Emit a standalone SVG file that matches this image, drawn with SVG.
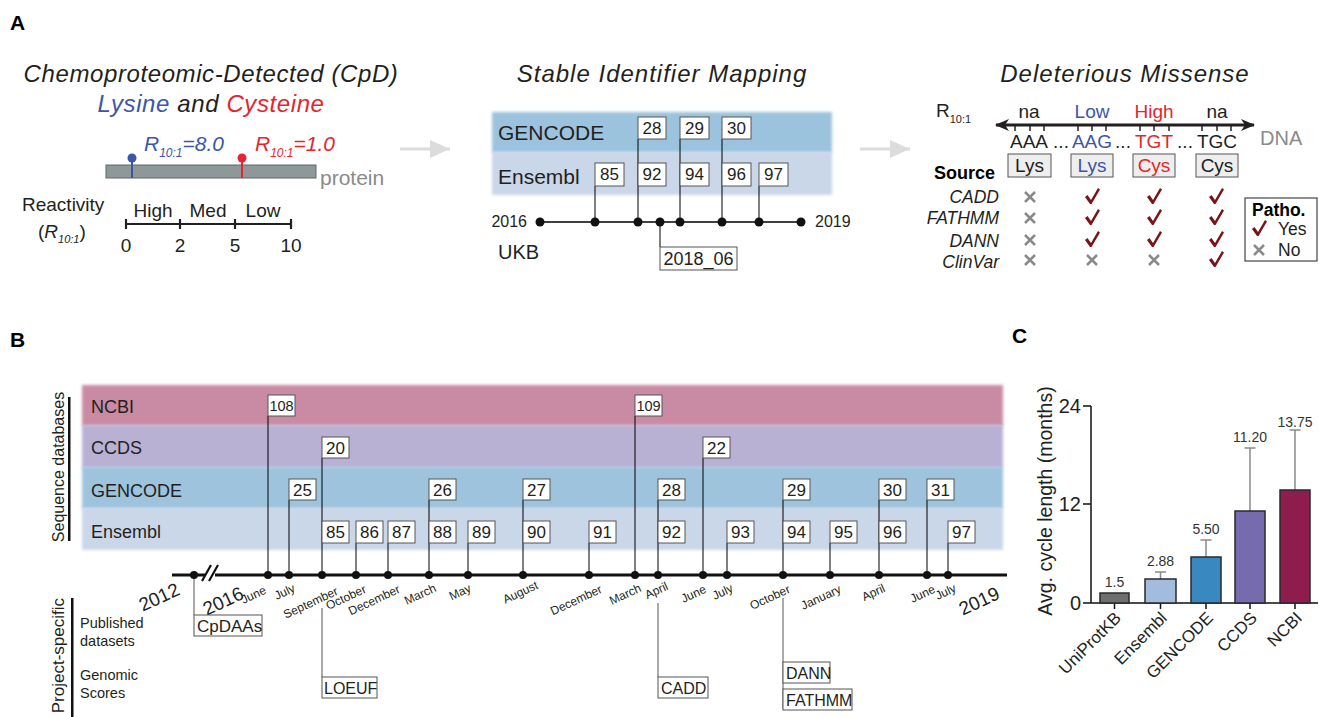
<svg xmlns="http://www.w3.org/2000/svg" width="1319" height="717" viewBox="0 0 1319 717">
<defs>
<style>
text{font-family:"Liberation Sans",Arial,Helvetica,sans-serif}
.pl{font-size:21px;font-weight:bold}
.title{font-size:24px;font-style:italic;letter-spacing:1px}
.bx{fill:#fff;stroke:#555;stroke-width:1}
.bn{font-size:17px;text-anchor:middle}
.ln{stroke:#000;stroke-width:1;fill:none}
.dot{fill:#111}
.mon{font-size:12px;text-anchor:end}
.yr{font-size:19px;text-anchor:end}
.xm{stroke:#8a8a8a;stroke-width:2.5;stroke-linecap:butt}
.ck{fill:#7a1417}
.bar{stroke:#2a2a2a;stroke-width:1.5}
.eb{stroke:#8a8a8a;stroke-width:1.5;fill:none}
.val{font-size:14px;text-anchor:middle}
.xl{font-size:17px;text-anchor:end}
</style>
<filter id="soft" x="-5%" y="-20%" width="110%" height="140%"><feGaussianBlur stdDeviation="1.5"/></filter>
<marker id="ga" viewBox="0 0 20 18" refX="20" refY="9" markerWidth="20" markerHeight="18" markerUnits="userSpaceOnUse" orient="auto"><path d="M0,0 L20,9 L0,18 Z" fill="#dcdcdc"/></marker>
<marker id="ba" viewBox="0 0 14 12" refX="13" refY="6" markerWidth="14" markerHeight="12" markerUnits="userSpaceOnUse" orient="auto-start-reverse"><path d="M0,0 L14,6 L0,12 L4,6 Z" fill="#231f20"/></marker>
<g id="chk"><path d="M-7,0 L-4.5,-2 L-1,3 L6,-9 L8,-7.5 L-0.5,7 L-2,7 Z"/></g>
<g id="crs"><path d="M-5,-5 L5,5 M-5,5 L5,-5"/></g>
</defs>
<g fill="#231f20">
<!-- Panel labels -->
<text class="pl" x="10" y="30" fill="#000">A</text>
<text class="pl" x="10" y="347" fill="#000">B</text>
<text class="pl" x="1012" y="343" fill="#000">C</text>

<!-- ===== Panel A left ===== -->
<g id="cpd-title">
<text class="title" x="211" y="82" text-anchor="middle" style="letter-spacing:0.6px">Chemoproteomic-Detected (CpD)</text>
<text class="title" x="211" y="112" text-anchor="middle" style="letter-spacing:0.6px"><tspan fill="#3b55a8">Lysine</tspan> and <tspan fill="#e3262d">Cysteine</tspan></text>
</g>
<g id="protein">
<rect x="106" y="165" width="210" height="13" fill="#8f9899" stroke="#5f6667" stroke-width="1"/>
<line x1="132" y1="158" x2="132" y2="178" stroke="#3b55a8" stroke-width="2"/>
<circle cx="132" cy="158" r="4.5" fill="#3b55a8"/>
<line x1="242" y1="158" x2="242" y2="178" stroke="#e3262d" stroke-width="2"/>
<circle cx="242" cy="158" r="4.5" fill="#e3262d"/>
<text x="144" y="151" font-size="21" font-style="italic" fill="#3b55a8">R<tspan font-size="12" dy="6">10:1</tspan><tspan dy="-6">=8.0</tspan></text>
<text x="255" y="151" font-size="21" font-style="italic" fill="#e3262d">R<tspan font-size="12" dy="6">10:1</tspan><tspan dy="-6">=1.0</tspan></text>
<text x="320" y="185" font-size="21" fill="#8a8a8a">protein</text>
</g>
<g id="reactivity">
<text x="22" y="211" font-size="19">Reactivity</text>
<text x="38" y="238" font-size="19">(<tspan font-style="italic">R</tspan><tspan font-size="11" dy="5" font-style="italic">10:1</tspan><tspan dy="-5">)</tspan></text>
<path d="M126,224 H291 M126,219 V229 M180,219 V229 M235,219 V229 M291,219 V229" stroke="#231f20" stroke-width="2.2" fill="none"/>
<text x="153" y="217" font-size="19" text-anchor="middle">High</text>
<text x="208" y="217" font-size="19" text-anchor="middle">Med</text>
<text x="263" y="217" font-size="19" text-anchor="middle">Low</text>
<text x="126" y="252" font-size="19" text-anchor="middle">0</text>
<text x="180" y="252" font-size="19" text-anchor="middle">2</text>
<text x="235" y="252" font-size="19" text-anchor="middle">5</text>
<text x="291" y="252" font-size="19" text-anchor="middle">10</text>
</g>

<!-- grey arrows -->
<g id="panel-arrows">
<line x1="400" y1="149" x2="450" y2="149" stroke="#dcdcdc" stroke-width="3" marker-end="url(#ga)"/>
<line x1="860" y1="149" x2="910" y2="149" stroke="#dcdcdc" stroke-width="3" marker-end="url(#ga)"/>
</g>

<!-- ===== Panel A middle ===== -->
<text class="title" x="662" y="82" text-anchor="middle">Stable Identifier Mapping</text>
<g id="sim-bands">
<rect x="492" y="112" width="340" height="41" fill="#9cc3dd" filter="url(#soft)"/>
<rect x="492" y="152" width="340" height="43" fill="#c9d7e9" filter="url(#soft)"/>
<text x="498" y="140" font-size="21">GENCODE</text>
<text x="498" y="184" font-size="21">Ensembl</text>
</g>
<g id="sim-connectors" class="ln">
<line x1="540" y1="222" x2="801" y2="222" stroke="#000" stroke-width="1.5"/>
<line x1="595" y1="222" x2="595" y2="186"/>
<line x1="638" y1="222" x2="638" y2="139"/>
<line x1="680" y1="222" x2="680" y2="139"/>
<line x1="722" y1="222" x2="722" y2="139"/>
<line x1="759" y1="222" x2="759" y2="186"/>
<line x1="660" y1="222" x2="660" y2="247"/>
</g>
<g id="sim-dots" class="dot">
<circle cx="540" cy="222" r="4.5"/><circle cx="595" cy="222" r="4.5"/><circle cx="638" cy="222" r="4.5"/><circle cx="660" cy="222" r="4.5"/><circle cx="680" cy="222" r="4.5"/><circle cx="722" cy="222" r="4.5"/><circle cx="759" cy="222" r="4.5"/><circle cx="801" cy="222" r="4.5"/>
</g>
<g id="sim-boxes">
<rect class="bx" x="638" y="117" width="28" height="22"/><text x="652" y="134" font-size="17" text-anchor="middle">28</text>
<rect class="bx" x="680" y="117" width="29" height="22"/><text x="694.5" y="134" font-size="17" text-anchor="middle">29</text>
<rect class="bx" x="722" y="117" width="29" height="22"/><text x="736.5" y="134" font-size="17" text-anchor="middle">30</text>
<rect class="bx" x="595" y="163" width="29" height="23"/><text x="609.5" y="180" font-size="17" text-anchor="middle">85</text>
<rect class="bx" x="638" y="163" width="28" height="23"/><text x="652" y="180" font-size="17" text-anchor="middle">92</text>
<rect class="bx" x="680" y="163" width="29" height="23"/><text x="694.5" y="180" font-size="17" text-anchor="middle">94</text>
<rect class="bx" x="722" y="163" width="29" height="23"/><text x="736.5" y="180" font-size="17" text-anchor="middle">96</text>
<rect class="bx" x="759" y="163" width="29" height="23"/><text x="773.5" y="180" font-size="17" text-anchor="middle">97</text>
<rect class="bx" x="660" y="247" width="77" height="23"/><text x="698.5" y="265" font-size="18" text-anchor="middle">2018_06</text>
</g>
<text x="527" y="227" font-size="16" text-anchor="end">2016</text>
<text x="815" y="227" font-size="16">2019</text>
<text x="498" y="259" font-size="20">UKB</text>

<!-- ===== Panel A right ===== -->
<text class="title" x="1125" y="82" text-anchor="middle">Deleterious Missense</text>
<g id="dna">
<text x="936" y="117" font-size="19">R<tspan font-size="11" dy="6">10:1</tspan></text>
<line x1="996" y1="125" x2="1254" y2="125" stroke="#231f20" stroke-width="3" marker-start="url(#ba)" marker-end="url(#ba)"/>
<path d="M1015,125v6M1030,125v6M1044,125v6M1078,125v6M1092,125v6M1106,125v6M1140,125v6M1154,125v6M1169,125v6M1202,125v6M1217,125v6M1231,125v6" stroke="#231f20" stroke-width="1.5"/>
<text x="1029" y="118" font-size="19" text-anchor="middle">na</text>
<text x="1092" y="118" font-size="19" text-anchor="middle" fill="#3b55a8">Low</text>
<text x="1154" y="118" font-size="19" text-anchor="middle" fill="#e3262d">High</text>
<text x="1217" y="118" font-size="19" text-anchor="middle">na</text>
<text x="1029" y="148" font-size="19" text-anchor="middle">AAA</text>
<text x="1061" y="148" font-size="19" text-anchor="middle">...</text>
<text x="1092" y="148" font-size="19" text-anchor="middle" fill="#3b55a8">AAG</text>
<text x="1123" y="148" font-size="19" text-anchor="middle">...</text>
<text x="1154" y="148" font-size="19" text-anchor="middle" fill="#e3262d">TGT</text>
<text x="1185" y="148" font-size="19" text-anchor="middle">...</text>
<text x="1217" y="148" font-size="19" text-anchor="middle">TGC</text>
<text x="1260" y="145" font-size="20" fill="#8a8a8a">DNA</text>
</g>
<g id="aa-boxes">
<rect x="1008" y="154" width="43" height="23" fill="#eeeeee" stroke="#555"/><text x="1029.5" y="172" font-size="19" text-anchor="middle">Lys</text>
<rect x="1071" y="154" width="42" height="23" fill="#eeeeee" stroke="#555"/><text x="1092" y="172" font-size="19" text-anchor="middle" fill="#3b55a8">Lys</text>
<rect x="1133" y="154" width="42" height="23" fill="#eeeeee" stroke="#555"/><text x="1154" y="172" font-size="19" text-anchor="middle" fill="#e3262d">Cys</text>
<rect x="1196" y="154" width="42" height="23" fill="#eeeeee" stroke="#555"/><text x="1217" y="172" font-size="19" text-anchor="middle">Cys</text>
</g>
<g id="sources">
<text x="934" y="179" font-size="18" font-weight="bold" fill="#000">Source</text>
<text x="999" y="203" font-size="17.5" font-style="italic" text-anchor="end">CADD</text>
<text x="999" y="224" font-size="17.5" font-style="italic" text-anchor="end">FATHMM</text>
<text x="999" y="247" font-size="17.5" font-style="italic" text-anchor="end">DANN</text>
<text x="999" y="268" font-size="17.5" font-style="italic" text-anchor="end">ClinVar</text>
<g class="xm">
<use href="#crs" x="1030" y="197"/><use href="#crs" x="1030" y="218"/><use href="#crs" x="1030" y="240"/><use href="#crs" x="1030" y="260"/>
<use href="#crs" x="1092" y="260"/><use href="#crs" x="1154" y="260"/>
</g>
<g class="ck">
<use href="#chk" x="1092" y="197"/><use href="#chk" x="1154" y="197"/><use href="#chk" x="1216" y="197"/>
<use href="#chk" x="1092" y="218"/><use href="#chk" x="1154" y="218"/><use href="#chk" x="1216" y="218"/>
<use href="#chk" x="1092" y="240"/><use href="#chk" x="1154" y="240"/><use href="#chk" x="1216" y="240"/>
<use href="#chk" x="1216" y="260"/>
</g>
</g>
<g id="legend">
<rect x="1245" y="198" width="72" height="63" fill="#fff" stroke="#444" stroke-width="1.2"/>
<text x="1252" y="216" font-size="17.5" font-weight="bold" fill="#000">Patho.</text>
<use href="#chk" x="1259" y="229" class="ck"/>
<text x="1278" y="235" font-size="17.5">Yes</text>
<use href="#crs" x="1259" y="250" class="xm"/>
<text x="1278" y="256" font-size="17.5">No</text>
</g>

<!-- ===== Panel B ===== -->
<g id="b-bands">
<rect x="82" y="385" width="921" height="41" fill="#c98aa3" filter="url(#soft)"/>
<rect x="82" y="425" width="921" height="43" fill="#b8b1d4" filter="url(#soft)"/>
<rect x="82" y="467" width="921" height="42" fill="#9dc3dd" filter="url(#soft)"/>
<rect x="82" y="508" width="921" height="42" fill="#c9d7e9" filter="url(#soft)"/>
<text x="91" y="413" font-size="18">NCBI</text>
<text x="91" y="454" font-size="18">CCDS</text>
<text x="91" y="497" font-size="18">GENCODE</text>
<text x="91" y="538" font-size="18">Ensembl</text>
</g>
<g id="b-side-labels">
<rect x="68" y="397" width="2.5" height="144" fill="#111"/>
<text transform="translate(64,467) rotate(-90)" font-size="16" text-anchor="middle">Sequence databases</text>
<rect x="71" y="598" width="2.5" height="119" fill="#111"/>
<text transform="translate(64,598) rotate(-90)" font-size="17" text-anchor="end">Project-specific</text>
<text x="80" y="628" font-size="14.5">Published</text>
<text x="80" y="646" font-size="14.5">datasets</text>
<text x="80" y="680" font-size="14.5">Genomic</text>
<text x="80" y="698" font-size="14.5">Scores</text>
</g>
<g id="b-connectors" class="ln">
<path d="M268,575V416 M289,575V500 M322,575V458 M356,575V543 M388,575V543 M429,575V500 M468,575V543 M523,575V500 M589,575V543 M635,575V416 M658,575V500 M703,575V458 M727,575V543 M783,575V500 M830,575V543 M879,575V500 M927,575V500 M948,575V543"/>
<path d="M194,575V615" stroke="#555"/>
<path d="M322,608V677" stroke="#555"/>
<path d="M658,603V677" stroke="#555"/>
<path d="M783,598V709" stroke="#555"/>
</g>
<g id="b-timeline">
<line x1="172" y1="575" x2="1007" y2="575" stroke="#111" stroke-width="3"/>
<rect x="205" y="570" width="10" height="10" fill="#fff"/>
<path d="M202,581 L211,565 M209,581 L218,565" stroke="#111" stroke-width="2.2"/>
<g class="dot">
<circle cx="194" cy="575" r="4"/><circle cx="268" cy="575" r="4"/><circle cx="289" cy="575" r="4"/><circle cx="322" cy="575" r="4"/><circle cx="356" cy="575" r="4"/><circle cx="388" cy="575" r="4"/><circle cx="429" cy="575" r="4"/><circle cx="468" cy="575" r="4"/><circle cx="523" cy="575" r="4"/><circle cx="589" cy="575" r="4"/><circle cx="635" cy="575" r="4"/><circle cx="658" cy="575" r="4"/><circle cx="703" cy="575" r="4"/><circle cx="727" cy="575" r="4"/><circle cx="783" cy="575" r="4"/><circle cx="830" cy="575" r="4"/><circle cx="879" cy="575" r="4"/><circle cx="927" cy="575" r="4"/><circle cx="948" cy="575" r="4"/>
</g>
<text class="yr" transform="translate(181,594) rotate(-25)">2012</text>
<text class="yr" transform="translate(245,598) rotate(-25)">2016</text>
<text class="yr" transform="translate(1001,598) rotate(-25)">2019</text>
<text class="mon" transform="translate(267,593) rotate(-25)">June</text>
<text class="mon" transform="translate(296,591) rotate(-25)">July</text>
<text class="mon" transform="translate(339,594) rotate(-25)">September</text>
<text class="mon" transform="translate(367,592) rotate(-25)">October</text>
<text class="mon" transform="translate(401,592) rotate(-25)">December</text>
<text class="mon" transform="translate(437,591) rotate(-25)">March</text>
<text class="mon" transform="translate(472,591) rotate(-25)">May</text>
<text class="mon" transform="translate(539,588) rotate(-25)">August</text>
<text class="mon" transform="translate(603,592) rotate(-25)">December</text>
<text class="mon" transform="translate(642,591) rotate(-25)">March</text>
<text class="mon" transform="translate(669,589) rotate(-25)">April</text>
<text class="mon" transform="translate(707,592) rotate(-25)">June</text>
<text class="mon" transform="translate(734,591) rotate(-25)">July</text>
<text class="mon" transform="translate(791,592) rotate(-25)">October</text>
<text class="mon" transform="translate(842,592) rotate(-25)">January</text>
<text class="mon" transform="translate(886,591) rotate(-25)">April</text>
<text class="mon" transform="translate(936,592) rotate(-25)">June</text>
<text class="mon" transform="translate(957,591) rotate(-25)">July</text>
</g>
<g id="b-boxes">
<rect class="bx" x="268" y="395" width="27" height="21"/><text class="bn" x="281.5" y="411" style="font-size:14.5px">108</text>
<rect class="bx" x="635" y="395" width="27" height="21"/><text class="bn" x="648.5" y="411" style="font-size:14.5px">109</text>
<rect class="bx" x="322" y="437" width="27" height="21"/><text class="bn" x="335.5" y="454">20</text>
<rect class="bx" x="703" y="437" width="27" height="21"/><text class="bn" x="716.5" y="454">22</text>
<rect class="bx" x="289" y="479" width="27" height="21"/><text class="bn" x="302.5" y="496">25</text>
<rect class="bx" x="429" y="479" width="27" height="21"/><text class="bn" x="442.5" y="496">26</text>
<rect class="bx" x="523" y="479" width="27" height="21"/><text class="bn" x="536.5" y="496">27</text>
<rect class="bx" x="658" y="479" width="27" height="21"/><text class="bn" x="671.5" y="496">28</text>
<rect class="bx" x="783" y="479" width="27" height="21"/><text class="bn" x="796.5" y="496">29</text>
<rect class="bx" x="879" y="479" width="27" height="21"/><text class="bn" x="892.5" y="496">30</text>
<rect class="bx" x="927" y="479" width="27" height="21"/><text class="bn" x="940.5" y="496">31</text>
<rect class="bx" x="322" y="521" width="27" height="22"/><text class="bn" x="335.5" y="538">85</text>
<rect class="bx" x="356" y="521" width="27" height="22"/><text class="bn" x="369.5" y="538">86</text>
<rect class="bx" x="388" y="521" width="27" height="22"/><text class="bn" x="401.5" y="538">87</text>
<rect class="bx" x="429" y="521" width="27" height="22"/><text class="bn" x="442.5" y="538">88</text>
<rect class="bx" x="468" y="521" width="27" height="22"/><text class="bn" x="481.5" y="538">89</text>
<rect class="bx" x="523" y="521" width="27" height="22"/><text class="bn" x="536.5" y="538">90</text>
<rect class="bx" x="589" y="521" width="27" height="22"/><text class="bn" x="602.5" y="538">91</text>
<rect class="bx" x="658" y="521" width="27" height="22"/><text class="bn" x="671.5" y="538">92</text>
<rect class="bx" x="727" y="521" width="27" height="22"/><text class="bn" x="740.5" y="538">93</text>
<rect class="bx" x="783" y="521" width="27" height="22"/><text class="bn" x="796.5" y="538">94</text>
<rect class="bx" x="830" y="521" width="27" height="22"/><text class="bn" x="843.5" y="538">95</text>
<rect class="bx" x="879" y="521" width="27" height="22"/><text class="bn" x="892.5" y="538">96</text>
<rect class="bx" x="948" y="521" width="27" height="22"/><text class="bn" x="961.5" y="538">97</text>
</g>
<g id="b-project-boxes">
<rect class="bx" x="194" y="615" width="68" height="21"/><text x="197" y="632" font-size="17">CpDAAs</text>
<rect class="bx" x="322" y="677" width="55" height="21"/><text x="324" y="694" font-size="16">LOEUF</text>
<rect class="bx" x="658" y="677" width="50" height="21"/><text x="661" y="694" font-size="16">CADD</text>
<rect class="bx" x="783" y="662" width="47" height="21"/><text x="786" y="679" font-size="16">DANN</text>
<rect class="bx" x="783" y="689" width="69" height="21"/><text x="786" y="706" font-size="16">FATHMM</text>
</g>

<!-- ===== Panel C ===== -->
<g id="c-axes">
<path d="M1091,406V603H1318 M1083,406H1091 M1083,504H1091 M1083,603H1091 M1114.5,603v6 M1160.5,603v6 M1206,603v6 M1250,603v6 M1295,603v6" stroke="#111" stroke-width="1.5" fill="none"/>
<text x="1081" y="413" font-size="20" text-anchor="end">24</text>
<text x="1081" y="511" font-size="20" text-anchor="end">12</text>
<text x="1081" y="610" font-size="20" text-anchor="end">0</text>
<text transform="translate(1052,501) rotate(-90)" font-size="19.5" text-anchor="middle">Avg. cycle length (months)</text>
</g>
<g id="c-errorbars" class="eb">
<path d="M1160.5,579V572 M1155,572H1166"/>
<path d="M1206,557V540 M1200.5,540H1211.5"/>
<path d="M1250,511V448 M1244.5,448H1255.5"/>
<path d="M1295,490V430 M1289.5,430H1300.5"/>
</g>
<g id="c-bars">
<rect class="bar" x="1100" y="593" width="29" height="10" fill="#6e6e6e"/>
<rect class="bar" x="1145" y="579" width="31" height="24" fill="#a3bcdd"/>
<rect class="bar" x="1191" y="557" width="30" height="46" fill="#3a88c0"/>
<rect class="bar" x="1235" y="511" width="30" height="92" fill="#766bae"/>
<rect class="bar" x="1280" y="490" width="30" height="113" fill="#8e1d4d"/>
</g>
<g id="c-values" fill="#333">
<text class="val" x="1114.5" y="587">1.5</text>
<text class="val" x="1160.5" y="566">2.88</text>
<text class="val" x="1206" y="534">5.50</text>
<text class="val" x="1250" y="442">11.20</text>
<text class="val" x="1295" y="427">13.75</text>
</g>
<g id="c-xlabels">
<text class="xl" transform="translate(1122,619) rotate(-45)">UniProtKB</text>
<text class="xl" transform="translate(1168,619) rotate(-45)">Ensembl</text>
<text class="xl" transform="translate(1214,619) rotate(-45)">GENCODE</text>
<text class="xl" transform="translate(1258,619) rotate(-45)">CCDS</text>
<text class="xl" transform="translate(1303,619) rotate(-45)">NCBI</text>
</g>
</g>
</svg>
